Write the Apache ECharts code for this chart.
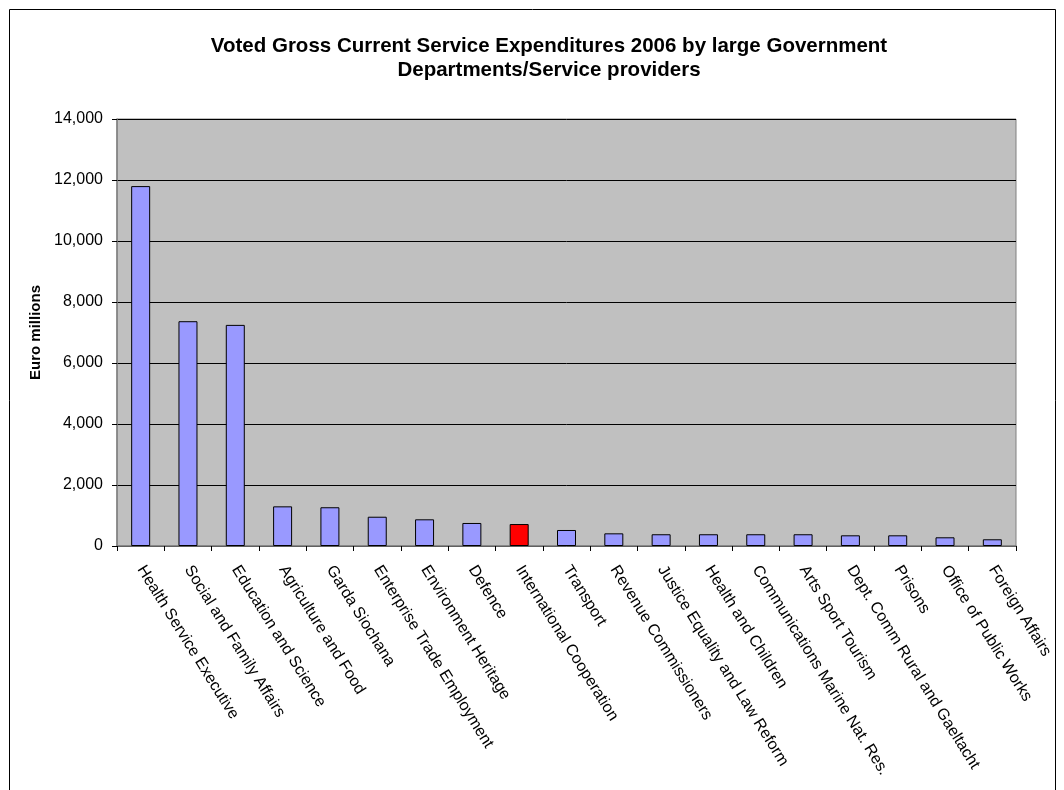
<!DOCTYPE html>
<html><head><meta charset="utf-8">
<script src="https://cdn.jsdelivr.net/npm/echarts@6/dist/echarts.min.js"></script>
<style>html,body{margin:0;padding:0;background:#fff}#c{width:1064px;height:790px}</style>
</head><body><div id="c"></div>
<script>
var categories = ["Health Service Executive","Social and Family Affairs","Education and Science","Agriculture and Food","Garda Siochana","Enterprise Trade Employment","Environment Heritage","Defence","International Cooperation","Transport","Revenue Commissioners","Justice Equality and Law Reform","Health and Children","Communications Marine Nat. Res.","Arts Sport Tourism","Dept. Comm Rural and Gaeltacht","Prisons","Office of Public Works","Foreign Affairs"];
var values = [11800,7370,7250,1300,1270,960,875,755,720,525,415,385,385,385,385,350,350,285,220];
var highlighted = "International Cooperation";
var yTicks = {min:0, max:14000, interval:2000};
var titleLines = ["Voted Gross Current Service Expenditures 2006 by large Government","Departments/Service providers"];
var yName = "Euro millions";

var chart = echarts.init(document.getElementById('c'), null, {renderer:'canvas'});
var font = '"Liberation Sans", Arial, sans-serif';
chart.setOption({
  animation:false,
  backgroundColor:'#fff',
  graphic:[{type:'rect', shape:{x:9.5,y:9.5,width:1046,height:800}, style:{fill:'none',stroke:'#000',lineWidth:1}, silent:true}],
  title:{text:titleLines.join('\n'), left:544, top:29, textAlign:'center',
    textStyle:{fontFamily:font,fontWeight:'bold',fontSize:20.5,lineHeight:24,color:'#000'}},
  grid:{left:117, top:119, width:899, height:427, show:true, backgroundColor:'#C0C0C0', borderColor:'#808080', borderWidth:1},
  xAxis:{type:'category', data:categories,
    axisLine:{lineStyle:{color:'#808080',width:1.5}},
    axisTick:{show:true, alignWithLabel:false, length:5, lineStyle:{color:'#000'}},
    axisLabel:{rotate:-58, interval:0, margin:21, fontFamily:font, fontSize:16, color:'#000'}},
  yAxis:{type:'value', min:yTicks.min, max:yTicks.max, interval:yTicks.interval,
    name:yName, nameLocation:'middle', nameGap:73, nameRotate:90,
    nameTextStyle:{fontFamily:font,fontWeight:'bold',fontSize:15,color:'#000'},
    axisLine:{show:true,lineStyle:{color:'#808080',width:1.5}},
    axisTick:{show:true,length:5,inside:false,lineStyle:{color:'#000'}},
    splitLine:{show:true,lineStyle:{color:'#000',width:1}},
    axisLabel:{margin:14, fontFamily:font, fontSize:16, color:'#000',
      formatter:function(v){return v.toLocaleString('en-US');}}},
  series:[{type:'bar', barWidth:19,
    data:values.map(function(v,i){return {value:v, itemStyle:{color: categories[i]===highlighted?'#FF0000':'#9999FF'}};}),
    itemStyle:{borderColor:'#000',borderWidth:1}}]
});
</script></body></html>
